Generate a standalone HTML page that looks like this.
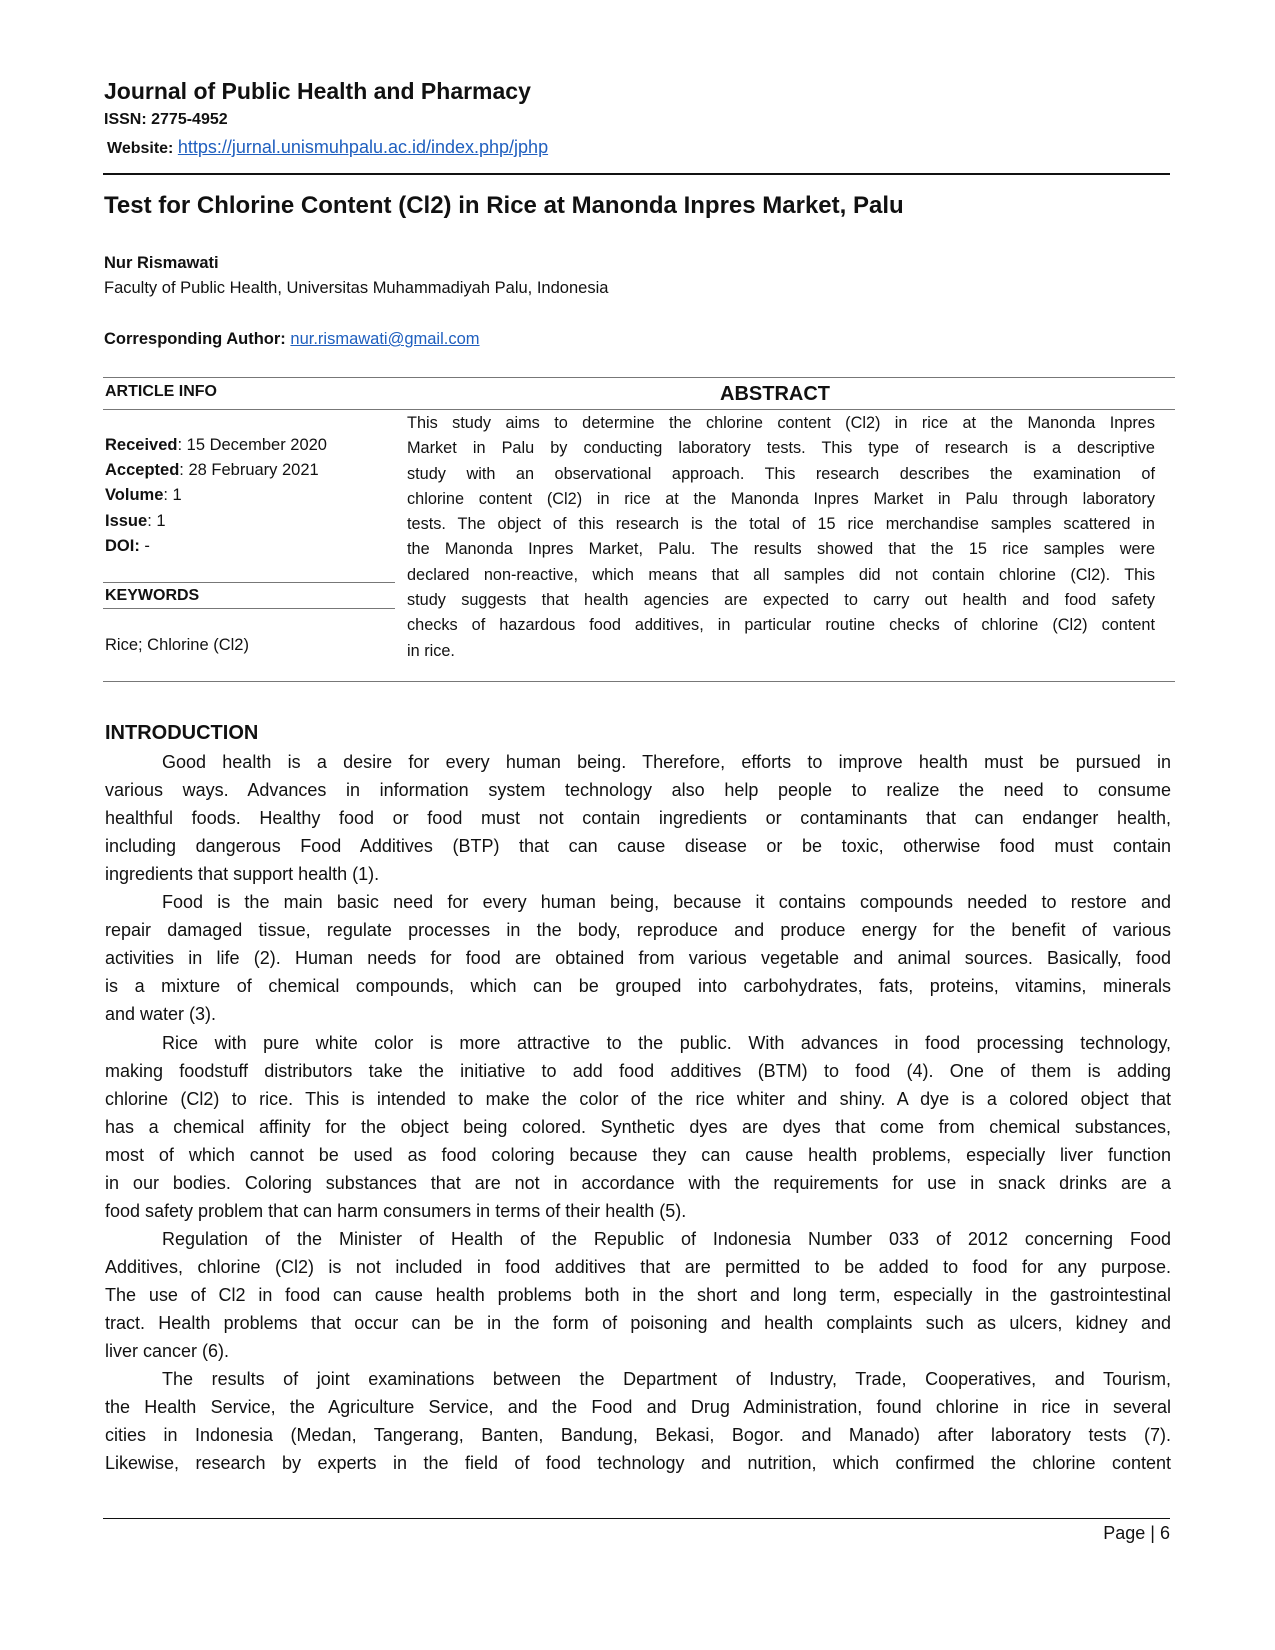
<!DOCTYPE html>
<html><head><meta charset="utf-8"><style>
body{margin:0;background:#fff;}
#p{position:relative;width:1275px;height:1650px;background:#fff;font-family:"Liberation Sans",sans-serif;color:#111;overflow:hidden;}
.a{position:absolute;white-space:nowrap;line-height:1;}
.b{font-weight:bold;}
.j{position:absolute;white-space:nowrap;line-height:1;text-align:justify;text-align-last:justify;}
.body{font-size:18px;left:105px;width:1066px;}
.abs{font-size:16.3px;left:407px;width:748px;}
.hl{position:absolute;background:#777;height:1px;}
a{color:#1f5fbf;text-decoration:underline;}
</style></head><body><div id="p">
<div class="a b" style="left:104px;top:80px;font-size:23px;">Journal of Public Health and Pharmacy</div>
<div class="a b" style="left:104px;top:112px;font-size:16px;">ISSN: 2775-4952</div>
<div class="a" style="left:107px;top:138px;font-size:16px;"><b>Website:</b> <a style="font-size:18px">https://jurnal.unismuhpalu.ac.id/index.php/jphp</a></div>
<div style="position:absolute;left:103px;top:173px;width:1067px;height:2px;background:#111"></div>
<div class="a b" style="left:104px;top:194px;font-size:24px;">Test for Chlorine Content (Cl2) in Rice at Manonda Inpres Market, Palu</div>
<div class="a b" style="left:104px;top:255px;font-size:16.5px;">Nur Rismawati</div>
<div class="a" style="left:104px;top:280px;font-size:16.5px;">Faculty of Public Health, Universitas Muhammadiyah Palu, Indonesia</div>
<div class="a" style="left:104px;top:331px;font-size:16.5px;"><b>Corresponding Author:</b> <a>nur.rismawati@gmail.com</a></div>

<div class="hl" style="left:103px;top:377px;width:1072px;"></div>
<div class="a b" style="left:105px;top:384px;font-size:16px;">ARTICLE INFO</div>
<div class="a b" style="left:720px;top:384px;font-size:20px;">ABSTRACT</div>
<div class="hl" style="left:103px;top:409px;width:1072px;"></div>
<div class="a" style="left:105px;top:437px;font-size:16.5px;"><b>Received</b>: 15 December 2020</div>
<div class="a" style="left:105px;top:462px;font-size:16.5px;"><b>Accepted</b>: 28 February 2021</div>
<div class="a" style="left:105px;top:487px;font-size:16.5px;"><b>Volume</b>: 1</div>
<div class="a" style="left:105px;top:513px;font-size:16.5px;"><b>Issue</b>: 1</div>
<div class="a" style="left:105px;top:538px;font-size:16.5px;"><b>DOI:</b> -</div>
<div class="hl" style="left:103px;top:582px;width:292px;"></div>
<div class="a b" style="left:105px;top:588px;font-size:16px;">KEYWORDS</div>
<div class="hl" style="left:103px;top:608px;width:292px;"></div>
<div class="a" style="left:105px;top:637px;font-size:16.5px;">Rice; Chlorine (Cl2)</div>

<div class="j abs" style="top:415px">This study aims to determine the chlorine content (Cl2) in rice at the Manonda Inpres</div>
<div class="j abs" style="top:440px">Market in Palu by conducting laboratory tests. This type of research is a descriptive</div>
<div class="j abs" style="top:466px">study with an observational approach. This research describes the examination of</div>
<div class="j abs" style="top:491px">chlorine content (Cl2) in rice at the Manonda Inpres Market in Palu through laboratory</div>
<div class="j abs" style="top:516px">tests. The object of this research is the total of 15 rice merchandise samples scattered in</div>
<div class="j abs" style="top:541px">the Manonda Inpres Market, Palu. The results showed that the 15 rice samples were</div>
<div class="j abs" style="top:567px">declared non-reactive, which means that all samples did not contain chlorine (Cl2). This</div>
<div class="j abs" style="top:592px">study suggests that health agencies are expected to carry out health and food safety</div>
<div class="j abs" style="top:617px">checks of hazardous food additives, in particular routine checks of chlorine (Cl2) content</div>
<div class="a" style="left:407px;top:643px;font-size:16.3px">in rice.</div>
<div class="hl" style="left:103px;top:681px;width:1072px;"></div>

<div class="a b" style="left:105px;top:723px;font-size:20px;">INTRODUCTION</div>
<div class="j body" style="top:753px;padding-left:57px;width:1009px">Good health is a desire for every human being. Therefore, efforts to improve health must be pursued in</div>
<div class="j body" style="top:781px">various ways. Advances in information system technology also help people to realize the need to consume</div>
<div class="j body" style="top:809px">healthful foods. Healthy food or food must not contain ingredients or contaminants that can endanger health,</div>
<div class="j body" style="top:837px">including dangerous Food Additives (BTP) that can cause disease or be toxic, otherwise food must contain</div>
<div class="a body" style="top:865px">ingredients that support health (1).</div>
<div class="j body" style="top:893px;padding-left:57px;width:1009px">Food is the main basic need for every human being, because it contains compounds needed to restore and</div>
<div class="j body" style="top:921px">repair damaged tissue, regulate processes in the body, reproduce and produce energy for the benefit of various</div>
<div class="j body" style="top:949px">activities in life (2). Human needs for food are obtained from various vegetable and animal sources. Basically, food</div>
<div class="j body" style="top:977px">is a mixture of chemical compounds, which can be grouped into carbohydrates, fats, proteins, vitamins, minerals</div>
<div class="a body" style="top:1005px">and water (3).</div>
<div class="j body" style="top:1034px;padding-left:57px;width:1009px">Rice with pure white color is more attractive to the public. With advances in food processing technology,</div>
<div class="j body" style="top:1062px">making foodstuff distributors take the initiative to add food additives (BTM) to food (4). One of them is adding</div>
<div class="j body" style="top:1090px">chlorine (Cl2) to rice. This is intended to make the color of the rice whiter and shiny. A dye is a colored object that</div>
<div class="j body" style="top:1118px">has a chemical affinity for the object being colored. Synthetic dyes are dyes that come from chemical substances,</div>
<div class="j body" style="top:1146px">most of which cannot be used as food coloring because they can cause health problems, especially liver function</div>
<div class="j body" style="top:1174px">in our bodies. Coloring substances that are not in accordance with the requirements for use in snack drinks are a</div>
<div class="a body" style="top:1202px">food safety problem that can harm consumers in terms of their health (5).</div>
<div class="j body" style="top:1230px;padding-left:57px;width:1009px">Regulation of the Minister of Health of the Republic of Indonesia Number 033 of 2012 concerning Food</div>
<div class="j body" style="top:1258px">Additives, chlorine (Cl2) is not included in food additives that are permitted to be added to food for any purpose.</div>
<div class="j body" style="top:1286px">The use of Cl2 in food can cause health problems both in the short and long term, especially in the gastrointestinal</div>
<div class="j body" style="top:1314px">tract. Health problems that occur can be in the form of poisoning and health complaints such as ulcers, kidney and</div>
<div class="a body" style="top:1342px">liver cancer (6).</div>
<div class="j body" style="top:1370px;padding-left:57px;width:1009px">The results of joint examinations between the Department of Industry, Trade, Cooperatives, and Tourism,</div>
<div class="j body" style="top:1398px">the Health Service, the Agriculture Service, and the Food and Drug Administration, found chlorine in rice in several</div>
<div class="j body" style="top:1426px">cities in Indonesia (Medan, Tangerang, Banten, Bandung, Bekasi, Bogor. and Manado) after laboratory tests (7).</div>
<div class="j body" style="top:1454px">Likewise, research by experts in the field of food technology and nutrition, which confirmed the chlorine content</div>

<div style="position:absolute;left:103px;top:1518px;width:1067px;height:1px;background:#111"></div>
<div class="a" style="right:105px;top:1524px;font-size:18px;">Page | 6</div>
</div></body></html>
